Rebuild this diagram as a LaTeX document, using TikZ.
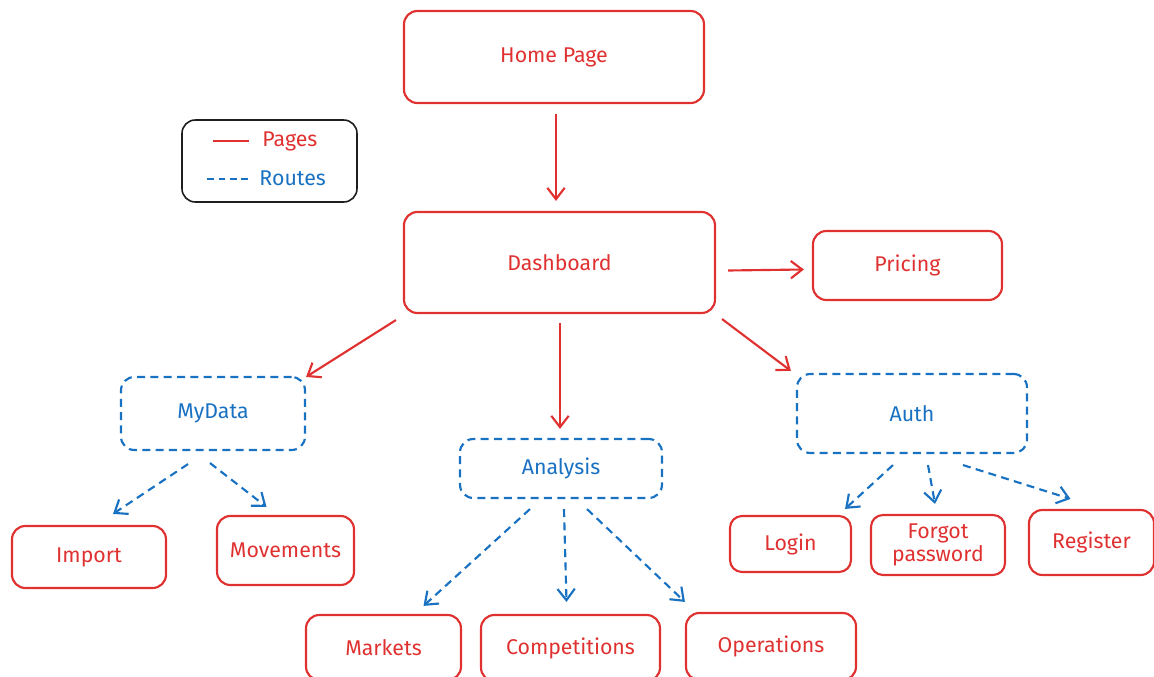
\documentclass[tikz,border=0pt]{standalone}
\usepackage{fontspec}
\setmainfont{Fira Sans}
\usetikzlibrary{arrows.meta,calc}
\definecolor{exred}{HTML}{E03131}
\definecolor{exblue}{HTML}{1971C2}
\definecolor{exblack}{HTML}{1E1E1E}
\tikzset{
  page/.style={draw=exred, text=exred, line width=1.6pt, rounded corners=10pt, inner sep=0pt, align=center, font=\fontsize{16}{17}\selectfont},
  route/.style={draw=exblue, text=exblue, line width=1.6pt, rounded corners=10pt, inner sep=0pt, dash pattern=on 6pt off 4pt, font=\fontsize{16}{17}\selectfont},
  legendbox/.style={draw=exblack, line width=1.2pt, rounded corners=10pt, inner sep=0pt},
  pagearrow/.style={draw=exred, line width=1.6pt, -{Straight Barb[length=8.5pt,width=13pt,line width=1.6pt]}},
  routearrow/.style={draw=exblue, line width=1.6pt, dash pattern=on 6pt off 4pt, -{Straight Barb[length=8.5pt,width=13pt,line width=1.6pt]}},
  legtext/.style={inner sep=0pt, font=\fontsize{16}{17}\selectfont},
}
\begin{document}
\begin{tikzpicture}[x=0.75pt,y=-0.75pt]
\useasboundingbox (0,0) rectangle (1154,677);
% pages
\node[page, minimum width=225pt, minimum height=69pt] (home) at (554,57) {Home Page};
\node[page, minimum width=233.25pt, minimum height=75.75pt] (dash) at (559.5,262.5) {Dashboard};
\node[page, minimum width=141.75pt, minimum height=51.75pt] (pricing) at (907.5,265.5) {Pricing};
\node[page, minimum width=115.5pt, minimum height=46.5pt] (import) at (89,557) {Import};
\node[page, minimum width=102.75pt, minimum height=51.75pt] (movements) at (285.5,550.5) {Movements};
\node[page, minimum width=116.25pt, minimum height=48.75pt] (markets) at (383.5,647.5) {Markets};
\node[page, minimum width=134.25pt, minimum height=49.5pt] (comp) at (570.5,648) {Competitions};
\node[page, minimum width=127.5pt, minimum height=50.25pt] (ops) at (771,646.5) {Operations};
\node[page, minimum width=90.75pt, minimum height=42pt, rounded corners=9pt] (login) at (790.5,544) {Login};
\node[page, minimum width=100.5pt, minimum height=45pt, rounded corners=9pt] (forgot) at (938,545) {Forgot\\password};
\node[page, minimum width=93.75pt, minimum height=48.75pt] (register) at (1091.5,542.5) {Register};
% routes
\node[route, minimum width=138pt, minimum height=54.75pt] (mydata) at (213,413.5) {MyData};
\node[route, minimum width=151.5pt, minimum height=44.25pt] (analysis) at (561,468.5) {Analysis};
\node[route, minimum width=172.5pt, minimum height=59.25pt] (auth) at (912,413.5) {Auth};
% legend
\node[legendbox, minimum width=131.25pt, minimum height=61.5pt] (legend) at (269.5,161) {};
\coordinate (lpa) at ($(legend.west)+(32,-20)$);
\coordinate (lpb) at ($(legend.west)+(68,-20)$);
\coordinate (lra) at ($(legend.west)+(26,18)$);
\coordinate (lrb) at ($(legend.west)+(67,18)$);
\draw[exred, line width=1.6pt] (lpa) -- (lpb);
\draw[exblue, line width=1.6pt, dash pattern=on 5pt off 3.5pt] (lra) -- (lrb);
\node[legtext, text=exred, anchor=west] (lpages) at ($(lpb)+(13,0)$) {Pages};
\node[legtext, text=exblue, anchor=west] (lroutes) at ($(lrb)+(11,-1)$) {Routes};
% page arrows
\draw[pagearrow] ($(home.south)+(2,10)$) -- ($(dash.north)+(-3.5,-10)$);
\draw[pagearrow] ($(dash.east)+(12,8)$) -- ($(pricing.west)+(-8,4)$);
\draw[pagearrow] ($(dash.south west)+(-7,6)$) -- ($(mydata.north east)+(0,1)$);
\draw[pagearrow] ($(dash.south)+(0.5,9)$) -- ($(analysis.north)+(-1,-9)$);
\draw[pagearrow] ($(dash.south east)+(6,5)$) -- ($(auth.north west)+(-5,-2)$);
% route arrows
\draw[routearrow] ($(mydata.south)+(-25,13)$) -- ($(import.north)+(24,-11)$);
\draw[routearrow] ($(mydata.south)+(-3,12)$) -- ($(movements.north)+(-19,-8)$);
\draw[routearrow] ($(analysis.south)+(-31,10)$) -- ($(markets.north)+(40,-8)$);
\draw[routearrow] ($(analysis.south)+(3,10)$) -- ($(comp.north)+(-4,-12)$);
\draw[routearrow] ($(analysis.south)+(26,10)$) -- ($(ops.north west)+(0,-10)$);
\draw[routearrow] ($(auth.south)+(-19,11)$) -- ($(login.north east)+(-7,-6)$);
\draw[routearrow] ($(auth.south)+(16,11)$) -- ($(forgot.north)+(-3,-10)$);
\draw[routearrow] ($(auth.south)+(51,11)$) -- ($(register.north)+(-21,-10)$);
\end{tikzpicture}
\end{document}
